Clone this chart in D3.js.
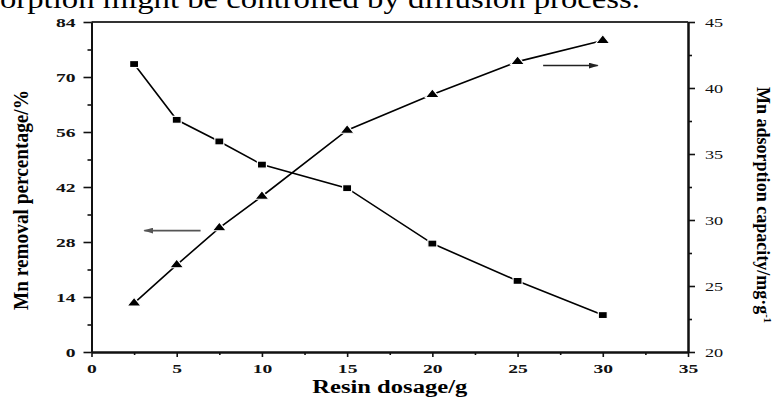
<!DOCTYPE html>
<html>
<head>
<meta charset="utf-8">
<script src="https://cdn.jsdelivr.net/npm/d3@7"></script>
<style>
  body { margin: 0; background: #fff; }
  svg { display: block; font-family: "Liberation Serif", "Times New Roman", serif; }
</style>
</head>
<body>
<div id="chart"></div>
<script>
// data
const dosage = [2.5, 5, 7.5, 10, 15, 20, 25, 30];
const removal = [73.3, 59.1, 53.6, 47.7, 41.7, 27.6, 18.1, 9.4];        // left axis, %
const capacity = [23.7, 26.6, 29.4, 31.8, 36.8, 39.5, 42.0, 43.6];      // right axis, mg/g
const xTicks = [0, 5, 10, 15, 20, 25, 30, 35];
const leftTicks = [0, 14, 28, 42, 56, 70, 84];
const rightTicks = [20, 25, 30, 35, 40, 45];
// arrows: [x0, x1, y] in data units
const leftArrow = [6.4, 3.1, 30.9];
const rightArrow = [26.5, 29.7, 41.7];

const width = 777, height = 405;
const margin = { top: 22, right: 89, bottom: 53, left: 91.5 };

const svg = d3.select('#chart').append('svg')
    .attr('width', width)
    .attr('height', height);

const x = d3.scaleLinear().domain([0, 35]).range([margin.left, width - margin.right]);
const yL = d3.scaleLinear().domain([0, 84]).range([height - margin.bottom, margin.top]);
const yR = d3.scaleLinear().domain([20, 45]).range([height - margin.bottom, margin.top]);

// cut-off line of body text above the figure
svg.append('text')
    .attr('x', 0).attr('y', 8)
    .attr('font-size', 27)
    .attr('textLength', 640)
    .attr('lengthAdjust', 'spacingAndGlyphs')
    .text('orption might be controlled by diffusion process.');

// top frame line
svg.append('line')
    .attr('x1', x(0)).attr('x2', x(35))
    .attr('y1', yL(84)).attr('y2', yL(84))
    .attr('stroke', '#333').attr('stroke-width', 2);

// minor ticks
const minor = (vals) => vals.slice(0, -1).map((v, i) => (v + vals[i + 1]) / 2);

const axisG = svg.append('g');

function styleAxis(g) {
    g.select('.domain').attr('stroke', '#111').attr('stroke-width', 2);
    g.selectAll('.tick line').attr('stroke', '#111').attr('stroke-width', 1.6);
}

// bottom
axisG.append('g')
    .attr('transform', `translate(0,${yL(0)})`)
    .call(d3.axisBottom(x).tickValues(minor(xTicks)).tickSize(3).tickFormat('').tickSizeOuter(0))
    .call(styleAxis);
const xb = axisG.append('g')
    .attr('transform', `translate(0,${yL(0)})`)
    .call(d3.axisBottom(x).tickValues(xTicks).tickSize(5).tickSizeOuter(0))
    .call(styleAxis);
xb.selectAll('.tick text')
    .attr('y', 0).attr('dy', 0)
    .attr('transform', 'translate(0,21) scale(1.45,1)')
    .attr('font-family', '"Liberation Serif", serif')
    .attr('font-weight', 'bold')
    .attr('font-size', 13.5)
    .attr('fill', '#111');

// left
axisG.append('g')
    .attr('transform', `translate(${x(0)},0)`)
    .call(d3.axisLeft(yL).tickValues(minor(leftTicks)).tickSize(4).tickFormat('').tickSizeOuter(0))
    .call(styleAxis);
const yl = axisG.append('g')
    .attr('transform', `translate(${x(0)},0)`)
    .call(d3.axisLeft(yL).tickValues(leftTicks).tickSize(8).tickSizeOuter(0))
    .call(styleAxis);
yl.selectAll('.tick text')
    .attr('x', 0).attr('dy', '0.35em')
    .attr('transform', 'translate(-16,0) scale(1.45,1)')
    .attr('font-family', '"Liberation Serif", serif')
    .attr('font-weight', 'bold')
    .attr('font-size', 13.5)
    .attr('fill', '#111');

// right
axisG.append('g')
    .attr('transform', `translate(${x(35)},0)`)
    .call(d3.axisRight(yR).tickValues(minor(rightTicks)).tickSize(4).tickFormat('').tickSizeOuter(0))
    .call(styleAxis);
const yr = axisG.append('g')
    .attr('transform', `translate(${x(35)},0)`)
    .call(d3.axisRight(yR).tickValues(rightTicks).tickSize(7).tickSizeOuter(0))
    .call(styleAxis);
yr.selectAll('.tick text')
    .attr('x', 0).attr('dy', '0.35em')
    .attr('transform', 'translate(17,0) scale(1.35,1)')
    .attr('font-family', '"Liberation Serif", serif')
    .attr('font-size', 13.5)
    .attr('fill', '#111');

// axis titles
svg.append('text')
    .attr('transform', `translate(28,${(yL(0) + yL(84)) / 2 + 13}) rotate(-90)`)
    .attr('text-anchor', 'middle')
    .attr('font-weight', 'bold')
    .attr('font-size', 20)
    .attr('textLength', 220)
    .attr('lengthAdjust', 'spacingAndGlyphs')
    .text('Mn removal percentage/%');

const rt = svg.append('text')
    .attr('transform', `translate(757,${(yR(20) + yR(45)) / 2 + 18}) rotate(90)`)
    .attr('text-anchor', 'middle')
    .attr('font-weight', 'bold')
    .attr('font-size', 19)
    .attr('textLength', 236)
    .attr('lengthAdjust', 'spacingAndGlyphs');
rt.append('tspan').text('Mn adsorption capacity/mg·g');
rt.append('tspan').attr('dy', -7).attr('font-size', 11).text('-1');

svg.append('text')
    .attr('x', (x(0) + x(35)) / 2 - 0)
    .attr('y', 393)
    .attr('text-anchor', 'middle')
    .attr('font-weight', 'bold')
    .attr('font-size', 18)
    .attr('textLength', 155)
    .attr('lengthAdjust', 'spacingAndGlyphs')
    .text('Resin dosage/g');

// series lines
const lineL = d3.line().x((d, i) => x(dosage[i])).y(d => yL(d));
const lineR = d3.line().x((d, i) => x(dosage[i])).y(d => yR(d));

svg.append('path').datum(removal)
    .attr('d', lineL).attr('fill', 'none')
    .attr('stroke', '#000').attr('stroke-width', 1.6);
svg.append('path').datum(capacity)
    .attr('d', lineR).attr('fill', 'none')
    .attr('stroke', '#000').attr('stroke-width', 1.6);

// square markers
svg.selectAll('.sq').data(removal).enter().append('rect')
    .attr('class', 'sq')
    .attr('x', (d, i) => x(dosage[i]) - 4.5)
    .attr('y', d => yL(d) - 3.5)
    .attr('width', 9).attr('height', 7)
    .attr('fill', '#000')
    .attr('stroke', '#fff').attr('stroke-width', 1.2);

// triangle markers
const tri = d3.symbol().type(d3.symbolTriangle).size(55);
svg.selectAll('.tri').data(capacity).enter().append('path')
    .attr('class', 'tri')
    .attr('d', tri)
    .attr('transform', (d, i) => `translate(${x(dosage[i])},${yR(d)}) scale(1.25,0.9)`)
    .attr('fill', '#000')
    .attr('stroke', '#fff').attr('stroke-width', 1.1);

// direction arrows
svg.append('defs').append('marker')
    .attr('id', 'head')
    .attr('viewBox', '0 0 10 6')
    .attr('refX', 9).attr('refY', 3)
    .attr('markerWidth', 10).attr('markerHeight', 6)
    .attr('markerUnits', 'userSpaceOnUse')
    .attr('orient', 'auto')
    .append('path').attr('d', 'M0,0L10,3L0,6Z').attr('fill', 'context-stroke');

svg.append('line')
    .attr('x1', x(leftArrow[0])).attr('x2', x(leftArrow[1]))
    .attr('y1', yL(leftArrow[2])).attr('y2', yL(leftArrow[2]))
    .attr('stroke', '#555').attr('stroke-width', 1.6)
    .attr('marker-end', 'url(#head)');
svg.append('line')
    .attr('x1', x(rightArrow[0])).attr('x2', x(rightArrow[1]))
    .attr('y1', yR(rightArrow[2])).attr('y2', yR(rightArrow[2]))
    .attr('stroke', '#222').attr('stroke-width', 1.6)
    .attr('marker-end', 'url(#head)');
</script>
</body>
</html>
